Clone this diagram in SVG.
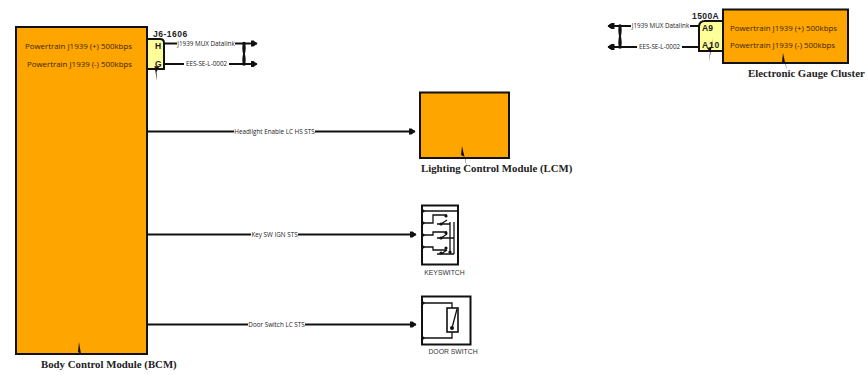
<svg xmlns="http://www.w3.org/2000/svg" width="867" height="375" viewBox="0 0 867 375">
<style>
text{font-family:"Open Sans","DejaVu Sans",sans-serif;fill:#222}
.box{fill:#ffa500;stroke:#111;stroke-width:2}
.pin{fill:#ffff99;stroke:#111;stroke-width:2}
.w{fill:none;stroke:#111;stroke-width:1.900}
.t{fill:none;stroke:#111;stroke-width:1.300}
.lbl{font-size:6.300px;text-anchor:middle;fill:#222}
.sig{font-size:7.900px;fill:#3a2500}
.sig2{font-size:7.900px;fill:#3a2500}
.pn{font-size:8.500px;font-weight:700;font-family:"Liberation Sans",sans-serif}
.name{font-family:"Liberation Serif",serif;font-weight:700;font-size:10.800px;fill:#222}
.cap{font-size:6.800px;text-anchor:middle;fill:#333;font-family:"Liberation Sans",sans-serif}
.bg{fill:#fff;stroke:none}
.k{fill:#111;stroke:none}
</style>
<defs>
<marker id="a" markerWidth="8" markerHeight="8" refX="6.500" refY="4" orient="auto" markerUnits="userSpaceOnUse"><path d="M0,1H3L7,4L3,7H0z" fill="#111"/></marker>
</defs>
<g id="bcm">
<rect class="box" x="16" y="27" width="131" height="327"/>
<text class="sig" x="78.500" y="49" text-anchor="middle">Powertrain J1939 (+) 500kbps</text>
<text class="sig" x="79.500" y="67" text-anchor="middle">Powertrain J1939 (-) 500kbps</text>
<path class="k" d="M79,342L82,360L81,354L78,352z"/>
<text class="name" x="41" y="368">Body Control Module (BCM)</text>
</g>
<g id="j6">
<path class="pin" d="M147,39H160Q164,39 164,43V69H147z"/>
<text class="pn" x="155" y="49">H</text>
<text class="pn" x="155" y="67">G</text>
<text class="pn" x="153" y="37" style="letter-spacing:.5px">J6-1606</text>
<path class="k" d="M153,57L157,81L156.500,72L159,67L154.500,66z"/>
</g>
<g id="lcm">
<rect class="box" x="420" y="92.500" width="89" height="65.500"/>
<path class="k" d="M462,146L467,168L465,157L461,155z"/>
<text class="name" x="421" y="172">Lighting Control Module (LCM)</text>
</g>
<g id="keyswitch">
<rect x="422" y="205.500" width="36" height="59" fill="#fff" stroke="#111" stroke-width="2"/>
<path class="t" d="M422,211H458M422,223H433V215H447M422,235H433V232H447M422,247H433V250H447M450,222V254M454,222V254M447,220L441,224M447,234L441,238M447,250L441,254M437,224H450M437,238H454M437,254H454"/>
<g class="k"><circle cx="423" cy="211" r="1.600"/><circle cx="423" cy="223" r="1.600"/><circle cx="423" cy="235" r="1.600"/><circle cx="423" cy="247" r="1.600"/><circle cx="446" cy="216" r="1.600"/><circle cx="441" cy="224" r="1.600"/><circle cx="441" cy="238" r="1.600"/><circle cx="446" cy="233" r="1.600"/><circle cx="441" cy="253" r="1.600"/><circle cx="450" cy="252" r="1.600"/><circle cx="446" cy="248" r="1.600"/></g>
<text class="cap" x="444.500" y="275">KEYSWITCH</text>
</g>
<g id="door_switch">
<rect x="422" y="296.500" width="48.500" height="48" fill="#fff" stroke="#111" stroke-width="2"/>
<path class="t" d="M422,303H452V308M422,338H452V332M452,328L457,309"/>
<rect x="447" y="308" width="11" height="24" fill="none" stroke="#111" stroke-width="1.600"/>
<circle class="k" cx="452" cy="328" r="2"/><circle class="k" cx="423" cy="303" r="1.600"/><circle class="k" cx="423" cy="338" r="1.600"/>
<text class="cap" x="453" y="354">DOOR SWITCH</text>
</g>
<g id="cluster">
<rect class="box" x="723" y="9.500" width="125" height="53.500"/>
<text class="sig" x="730" y="31">Powertrain J1939 (+) 500kbps</text>
<text class="sig" x="730" y="48">Powertrain J1939 (-) 500kbps</text>
<path class="k" d="M783,53L787,71L785.500,62L782,62z"/>
<text class="name" x="748" y="77">Electronic Gauge Cluster</text>
</g>
<g id="c1500a">
<path class="pin" d="M723,21H705Q699,21 699,27V51H723z"/>
<text class="pn" x="702" y="31">A9</text>
<text class="pn" x="702" y="48" style="letter-spacing:.8px">A10</text>
<text class="pn" x="692" y="19" style="letter-spacing:.4px">1500A</text>
<path class="k" d="M713,38L709,62L710,52L707,48L712,47z"/>
</g>
<g id="connectors">
<path class="w" d="M164,43.500H250"/>
<path class="w" d="M164,64H250"/>
<path class="w" d="M244,43.500C241,50 247,58 244,64M244,43.500C247,50 241,58 244,64"/>
<path class="w" d="M250,43.500H257" marker-end="url(#a)"/>
<path class="w" d="M250,64H257" marker-end="url(#a)"/>
<circle class="k" cx="244" cy="43.500" r="1.800"/><circle class="k" cx="244" cy="64" r="1.800"/>
<path class="w" d="M699,26H612"/>
<path class="w" d="M699,47H612"/>
<path class="w" d="M620,26C617,32 623,40 620,47M620,26C623,32 617,40 620,47"/>
<path class="w" d="M612,26H608" marker-end="url(#a)"/>
<path class="w" d="M612,47H608" marker-end="url(#a)"/>
<circle class="k" cx="620" cy="26" r="1.800"/><circle class="k" cx="620" cy="47" r="1.800"/>
<circle class="k" cx="611" cy="26" r="2.200"/><circle class="k" cx="611" cy="47" r="2.200"/>
<path class="w" d="M147,131.500H415" marker-end="url(#a)"/>
<path class="w" d="M147,234.500H416" marker-end="url(#a)"/>
<path class="w" d="M147,324.500H416" marker-end="url(#a)"/>
<rect class="bg" x="177" y="40" width="58" height="7"/><text class="lbl" x="206" y="45.800">J1939 MUX Datalink</text>
<rect class="bg" x="184" y="60.500" width="45" height="7"/><text class="lbl" x="206.500" y="66.200">EES-SE-L-0002</text>
<rect class="bg" x="631" y="22.500" width="59" height="7"/><text class="lbl" x="660.500" y="28.200">J1939 MUX Datalink</text>
<rect class="bg" x="637" y="43.500" width="45" height="7"/><text class="lbl" x="659.500" y="49.200">EES-SE-L-0002</text>
<rect class="bg" x="234" y="128" width="81" height="7"/><text class="lbl" x="274.500" y="133.800">Headlight Enable LC HS STS</text>
<rect class="bg" x="251" y="231" width="47" height="7"/><text class="lbl" x="274.500" y="236.800">Key SW IGN STS</text>
<rect class="bg" x="248" y="321" width="57" height="7"/><text class="lbl" x="276.500" y="326.800">Door Switch LC STS</text>
</g>
</svg>
